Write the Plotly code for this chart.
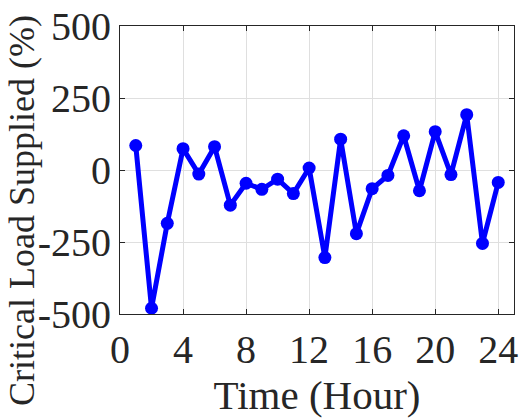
import plotly.graph_objects as go

hours = list(range(1, 25))
critical_load = [85, -480, -185, 74, -14, 81, -122, -46, -67, -32, -82, 7,
                 -304, 107, -221, -65, -19, 119, -72, 133, -16, 192, -255, -43]
x_ticks = [0, 4, 8, 12, 16, 20, 24]
y_ticks = [-500, -250, 0, 250, 500]
y_tick_labels = ["-500", "-250", "0", "250", "500"]

FONT = "Liberation Serif, Times New Roman, serif"
AX = "#262626"

fig = go.Figure()
fig.add_trace(go.Scatter(
    x=hours, y=critical_load, mode="lines+markers",
    line=dict(color="#0000FF", width=5),
    marker=dict(color="#0000FF", size=13),
    cliponaxis=False,
))

axis_common = dict(
    showline=True, linecolor=AX, linewidth=1, mirror="ticks",
    ticks="inside", ticklen=5, tickcolor=AX,
    showgrid=True, gridcolor="#DFDFDF", gridwidth=1,
    zeroline=False,
    ticklabeloverflow="allow",
    tickfont=dict(family=FONT, size=40, color=AX),
)

fig.update_layout(
    width=522, height=420,
    margin=dict(l=120, r=4, t=18, b=106),
    paper_bgcolor="white", plot_bgcolor="white",
    showlegend=False,
    xaxis=dict(range=[0, 25], tickvals=x_ticks, **axis_common,
               title=dict(text="Time (Hour)", font=dict(family=FONT, size=41, color=AX), standoff=6)),
    yaxis=dict(range=[-500, 500], tickvals=y_ticks, ticktext=y_tick_labels, **axis_common),
    annotations=[dict(
        text="Critical Load Supplied (%)", textangle=-90,
        xref="paper", yref="paper", x=-0.247, y=0.36,
        xanchor="center", yanchor="middle", showarrow=False,
        font=dict(family=FONT, size=36, color=AX),
    )],
)

fig.write_html("out.html")
